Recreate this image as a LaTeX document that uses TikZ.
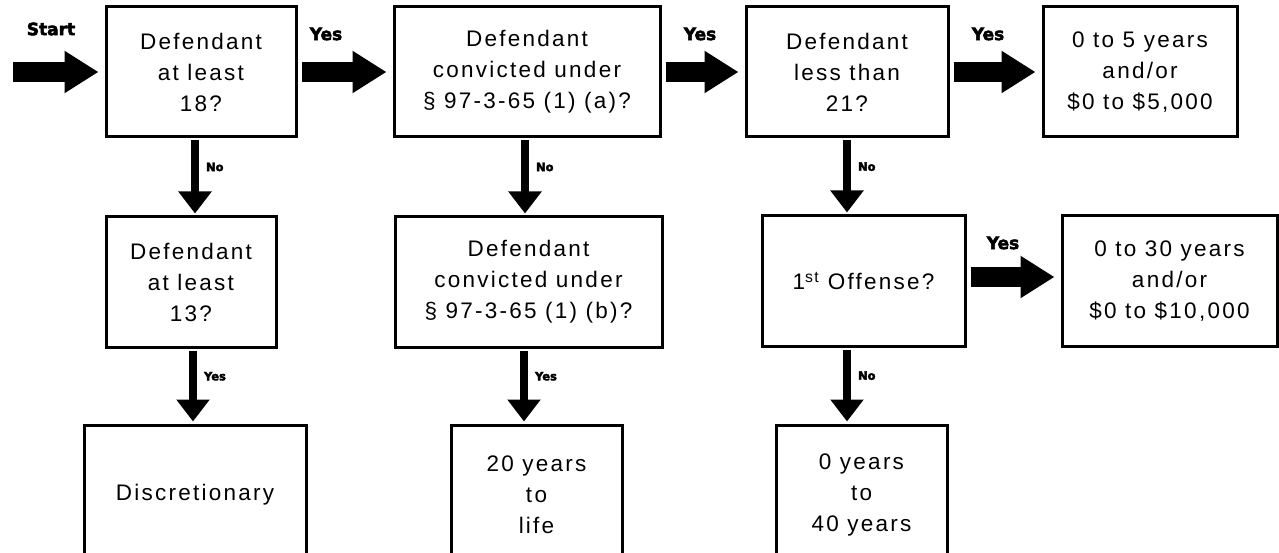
\documentclass[tikz,border=0pt]{standalone}
\usepackage{fontspec}
\setmainfont{Liberation Sans}[LetterSpace=10]
\newfontfamily\lblfont{DejaVu Sans Bold}[FakeBold=3]
\usetikzlibrary{arrows.meta}
\tikzset{
  box/.style={draw, line width=3pt, align=center, inner sep=0pt,
    font=\fontsize{22.5}{31}\selectfont},
  harrow/.style={line width=20pt, -{Triangle[width=40pt,length=34pt]},
    shorten <=4pt, shorten >=6pt},
  varrow/.style={line width=8pt, -{Triangle[width=32pt,length=22pt]},
    shorten <=2pt, shorten >=2pt},
  lbl/.style={font=\lblfont\fontsize{17}{17}\selectfont, inner sep=0pt},
  slbl/.style={font=\lblfont\fontsize{11.5}{12}\selectfont, inner sep=0pt}
}
\begin{document}
\begin{tikzpicture}[x=1pt,y=-1pt]
\fill[white] (0,0) rectangle (1279,553);
\useasboundingbox (0,0) rectangle (1279,553);
% top row
\node[box, minimum width=190pt, minimum height=130pt] (b1) at (201,72) {Defendant\\at least\\18?};
\node[box, minimum width=266pt, minimum height=130pt] (b2) at (527,72) {Defendant\\convicted under\\§ 97-3-65 (1) (a)?};
\node[box, minimum width=202pt, minimum height=130pt] (b3) at (847,72) {Defendant\\less than\\21?};
\node[box, minimum width=194pt, minimum height=130pt] (b4) at (1140,72) {0 to 5 years\\and/or\\\$0 to \$5,000};
% middle row
\node[box, minimum width=170pt, minimum height=130pt] (b5) at (191,282) {Defendant\\at least\\13?};
\node[box, minimum width=267pt, minimum height=130pt] (b6) at (528.5,282) {Defendant\\convicted under\\§ 97-3-65 (1) (b)?};
\node[box, minimum width=203pt, minimum height=130pt] (b7) at (863.5,281) {1\textsuperscript{st} Offense?};
\node[box, minimum width=215pt, minimum height=130pt] (b10) at (1169.5,281) {0 to 30 years\\and/or\\\$0 to \$10,000};
% bottom row
\node[box, minimum width=222pt, minimum height=140pt] (bd) at (195,495) {Discretionary};
\node[box, minimum width=171pt, minimum height=140pt] (b8) at (536.5,495) {20 years\\to\\life};
\node[box, minimum width=171pt, minimum height=140pt] (b9) at (861.5,495) {0 years\\to\\40 years};
% horizontal arrows
\coordinate (st) at (9,72);
\draw[harrow] (st) -- (b1.west);
\draw[harrow] (b1.east) -- (b2.west);
\draw[harrow] (b2.east) -- (b3.west);
\draw[harrow] (b3.east) -- (b4.west);
\draw[harrow] ([yshift=4pt]b7.east) -- ([yshift=4pt]b10.west);
\node[lbl] (lstart) at (51,29) {Start};
\node[lbl] (ly1) at (326,34) {Yes};
\node[lbl] (ly2) at (700,34) {Yes};
\node[lbl] (ly3) at (988,34) {Yes};
\node[lbl] (ly4) at (1003,243) {Yes};
% vertical arrows
\draw[varrow] ([xshift=-6pt]b1.south) -- node[slbl, pos=0.37, right=7pt] (n1) {No} ([xshift=-6pt]b1.south |- b5.north);
\draw[varrow] ([xshift=2pt]b5.south) -- node[slbl, pos=0.37, right=7pt] (n2) {Yes} ([xshift=2pt]b5.south |- bd.north);
\draw[varrow] ([xshift=-2pt]b2.south) -- node[slbl, pos=0.37, right=7pt] (n3) {No} ([xshift=-2pt]b2.south |- b6.north);
\draw[varrow] ([xshift=-4.5pt]b6.south) -- node[slbl, pos=0.37, right=7pt] (n4) {Yes} ([xshift=-4.5pt]b6.south |- b8.north);
\draw[varrow] (b3.south) -- node[slbl, pos=0.37, right=7pt] (n5) {No} (b3.south |- b7.north);
\draw[varrow] ([xshift=-16.5pt]b7.south) -- node[slbl, pos=0.37, right=7pt] (n6) {No} ([xshift=-16.5pt]b7.south |- b9.north);
\end{tikzpicture}
\end{document}
